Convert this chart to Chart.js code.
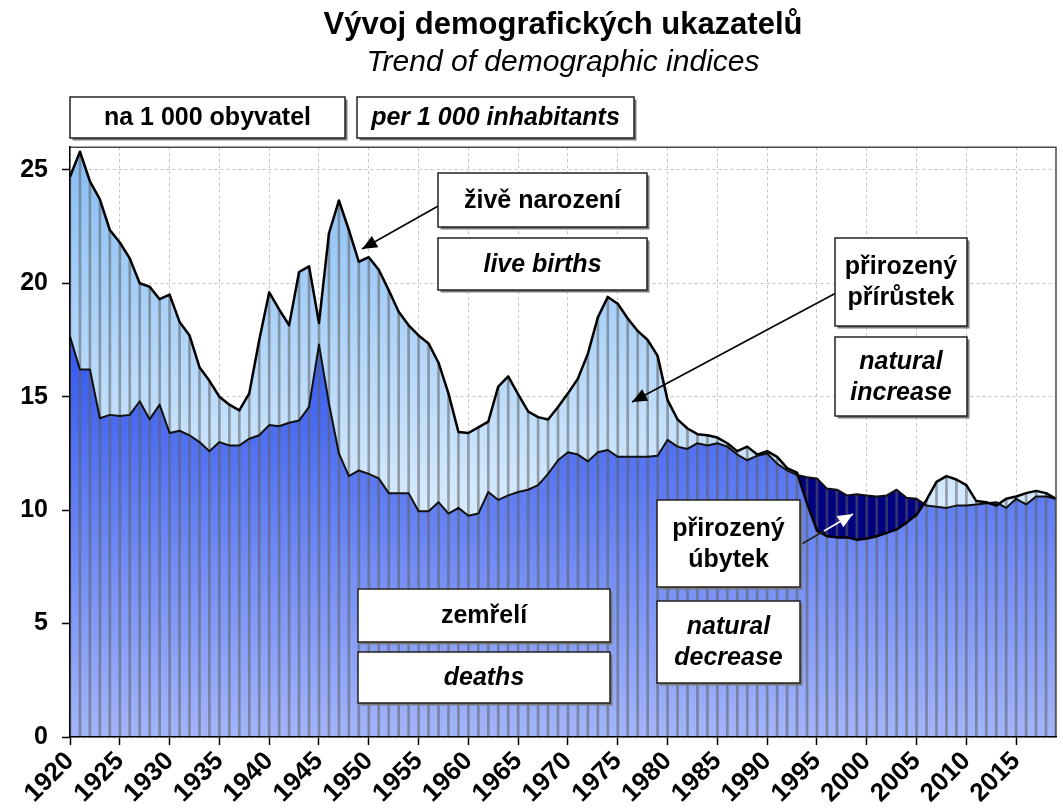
<!DOCTYPE html>
<html><head><meta charset="utf-8">
<script src="https://cdn.jsdelivr.net/npm/chart.js@4"></script>
<style>html,body{margin:0;padding:0;background:#fff}#wrap{width:1063px;height:808px}</style>
</head><body><div id="wrap"><canvas id="c" width="1063" height="808"></canvas></div>
<script>
const FONT = "'Liberation Sans', Arial, sans-serif";

const years = [1920,1921,1922,1923,1924,1925,1926,1927,1928,1929,
1930,1931,1932,1933,1934,1935,1936,1937,1938,1939,
1940,1941,1942,1943,1944,1945,1946,1947,1948,1949,
1950,1951,1952,1953,1954,1955,1956,1957,1958,1959,
1960,1961,1962,1963,1964,1965,1966,1967,1968,1969,
1970,1971,1972,1973,1974,1975,1976,1977,1978,1979,
1980,1981,1982,1983,1984,1985,1986,1987,1988,1989,
1990,1991,1992,1993,1994,1995,1996,1997,1998,1999,
2000,2001,2002,2003,2004,2005,2006,2007,2008,2009,
2010,2011,2012,2013,2014,2015,2016,2017,2018,2019];

const births = [24.7,25.8,24.5,23.7,22.35,21.8,21.1,20.0,19.85,19.3,
19.5,18.3,17.7,16.3,15.7,15.0,14.65,14.4,15.15,17.5,
19.6,18.85,18.15,20.5,20.75,18.25,22.2,23.65,22.35,20.95,
21.15,20.6,19.7,18.75,18.15,17.7,17.35,16.5,15.15,13.45,
13.4,13.65,13.9,15.45,15.9,15.1,14.35,14.1,14.0,14.55,
15.15,15.8,16.9,18.5,19.4,19.1,18.45,17.9,17.5,16.8,
14.85,14.0,13.6,13.35,13.3,13.2,12.95,12.6,12.8,12.45,
12.6,12.35,11.85,11.65,10.3,9.1,8.85,8.8,8.8,8.7,
8.75,8.85,9.0,9.15,9.45,9.8,10.45,11.25,11.5,11.35,
11.1,10.4,10.35,10.2,10.5,10.6,10.75,10.85,10.75,10.5];

const deaths = [17.65,16.2,16.2,14.05,14.2,14.15,14.2,14.8,14.0,14.65,
13.4,13.5,13.3,13.0,12.6,13.0,12.85,12.85,13.15,13.3,
13.75,13.7,13.85,13.95,14.55,17.3,14.7,12.5,11.5,11.75,
11.6,11.4,10.75,10.75,10.75,9.95,9.95,10.35,9.85,10.1,
9.75,9.85,10.8,10.45,10.65,10.8,10.9,11.1,11.6,12.2,
12.55,12.45,12.15,12.55,12.65,12.35,12.35,12.35,12.35,12.4,
13.1,12.8,12.7,12.95,12.85,12.95,12.8,12.45,12.2,12.4,
12.5,12.05,11.75,11.55,11.45,11.4,10.95,10.9,10.65,10.7,
10.65,10.6,10.65,10.9,10.55,10.5,10.2,10.15,10.1,10.2,
10.2,10.25,10.3,10.35,10.1,10.5,10.25,10.6,10.6,10.5];

const xTickLabels = [1920,1925,1930,1935,1940,1945,1950,1955,1960,1965,1970,1975,1980,1985,1990,1995,2000,2005,2010,2015];
const yTickValues = [0,5,10,15,20,25];

const dropTops = births.map((b, i) => Math.max(b, deaths[i]));

function vGrad(chart, vTop, vBot, c0, c1) {
  const {ctx, chartArea, scales} = chart;
  if (!chartArea || !scales.y) return c1;
  const y0 = scales.y.getPixelForValue(vTop), y1 = scales.y.getPixelForValue(vBot);
  const g = ctx.createLinearGradient(0, y0, 0, y1);
  g.addColorStop(0, c0); g.addColorStop(1, c1);
  return g;
}

function arrow(ctx, x1, y1, x2, y2, color, head) {
  ctx.save();
  ctx.strokeStyle = color; ctx.fillStyle = color; ctx.lineWidth = 1.6;
  ctx.beginPath(); ctx.moveTo(x1, y1); ctx.lineTo(x2, y2); ctx.stroke();
  if (head) {
    const a = Math.atan2(y2 - y1, x2 - x1), L = 15, W = 6.5;
    const bx = x2 - L * Math.cos(a), by = y2 - L * Math.sin(a);
    ctx.beginPath();
    ctx.moveTo(x2, y2);
    ctx.lineTo(bx + W * Math.sin(a), by - W * Math.cos(a));
    ctx.lineTo(bx - W * Math.sin(a), by + W * Math.cos(a));
    ctx.closePath(); ctx.fill();
  }
  ctx.restore();
}

const notes = {
  id: 'notes',
  afterDatasetsDraw(chart) {
    const ctx = chart.ctx, a = chart.chartArea;
    ctx.save();
    ctx.strokeStyle = '#4a4a4a'; ctx.lineWidth = 1.5;
    ctx.beginPath();
    ctx.moveTo(a.left, a.top); ctx.lineTo(a.right, a.top); ctx.lineTo(a.right, a.bottom);
    ctx.stroke();
    ctx.restore();
  },
  afterDraw(chart) {
    const ctx = chart.ctx;
    arrow(ctx, 440, 205, 362, 249, '#000', true);
    arrow(ctx, 836, 293, 632, 402, '#000', true);
    arrow(ctx, 800, 545, 824, 531, '#222', false);
    arrow(ctx, 824, 531, 853, 514, '#fff', true);
    const boxes = [
      {x:70, y:97, w:275, h:41, lines:['na 1 000 obyvatel'], it:false},
      {x:357, y:97, w:277, h:41, lines:['per 1 000 inhabitants'], it:true},
      {x:438, y:173, w:209, h:54, lines:['živě narození'], it:false},
      {x:438, y:238, w:209, h:52, lines:['live births'], it:true},
      {x:835, y:238, w:132, h:88, lines:['přirozený','přírůstek'], it:false},
      {x:835, y:337, w:132, h:79, lines:['natural','increase'], it:true},
      {x:657, y:500, w:143, h:87, lines:['přirozený','úbytek'], it:false},
      {x:657, y:601, w:143, h:82, lines:['natural','decrease'], it:true},
      {x:358, y:589, w:252, h:53, lines:['zemřelí'], it:false},
      {x:358, y:652, w:252, h:51, lines:['deaths'], it:true}
    ];
    boxes.forEach(b => {
      ctx.save();
      ctx.fillStyle = '#7a7a7a';
      ctx.fillRect(b.x + 2.5, b.y + 2.5, b.w, b.h);
      ctx.fillStyle = '#fff';
      ctx.fillRect(b.x, b.y, b.w, b.h);
      ctx.strokeStyle = '#222'; ctx.lineWidth = 1.5;
      ctx.strokeRect(b.x, b.y, b.w, b.h);
      ctx.fillStyle = '#000';
      ctx.font = (b.it ? 'italic ' : '') + 'bold 25px ' + FONT;
      ctx.textAlign = 'center'; ctx.textBaseline = 'middle';
      const cx = b.x + b.w / 2, cy = b.y + b.h / 2 + 1, sp = 31;
      const n = b.lines.length;
      b.lines.forEach((t, i) => ctx.fillText(t, cx, cy + (i - (n - 1) / 2) * sp));
      ctx.restore();
    });
  }
};

new Chart(document.getElementById('c'), {
  type: 'line',
  data: {
    labels: years,
    datasets: [
      {
        label: 'živě narození',
        data: births,
        order: 0,
        borderColor: '#000', borderWidth: 2.5, borderJoinStyle: 'round',
        pointRadius: 0, tension: 0,
        backgroundColor: (c) => vGrad(c.chart, 26, 9.5, '#86bdf4', '#d9ecfe'),
        fill: {target: 1, below: '#000080'}
      },
      {
        label: 'zemřelí',
        data: deaths,
        order: 1,
        borderColor: '#111', borderWidth: 2, borderJoinStyle: 'round',
        pointRadius: 0, tension: 0,
        backgroundColor: (c) => vGrad(c.chart, 18, 0, '#2f55ef', '#a3b5f9'),
        fill: 'origin'
      },
      {
        type: 'bar',
        label: 'drop',
        data: dropTops,
        order: 2,
        backgroundColor: 'rgba(95,95,95,0.55)',
        borderWidth: 0,
        barThickness: 2
      }
    ]
  },
  options: {
    responsive: false,
    animation: false,
    events: [],
    devicePixelRatio: 1,
    layout: {padding: {left: 0, right: 7, top: 0, bottom: 0}},
    plugins: {
      legend: {display: false},
      tooltip: {enabled: false},
      filler: {drawTime: 'beforeDatasetsDraw'},
      title: {
        display: true, text: 'Vývoj demografických ukazatelů', fullSize: false,
        color: '#000', font: {family: FONT, size: 31, weight: 'bold', lineHeight: 1.2},
        padding: {top: 7, bottom: 0}
      },
      subtitle: {
        display: true, text: 'Trend of demographic indices', fullSize: false,
        color: '#000', font: {family: FONT, size: 30, style: 'italic', weight: 'normal', lineHeight: 1.2},
        padding: {top: 0, bottom: 67}
      }
    },
    scales: {
      x: {
        type: 'category',
        offset: false,
        grid: {offset: false, color: '#c4c4c4', lineWidth: 1, tickColor: '#000', tickLength: 8, tickWidth: 1.5},
        border: {display: true, color: '#000', width: 1.5, dash: [3, 3], z: 1},
        ticks: {
          autoSkip: false, maxRotation: 45, minRotation: 45, padding: 1,
          color: '#000', font: {family: FONT, size: 26, weight: 'bold'},
          callback: (v, i) => xTickLabels.includes(years[i]) ? String(years[i]) : null
        },
        afterFit: (s) => { s.height = 71; }
      },
      y: {
        min: 0, max: 26,
        grid: {color: '#c4c4c4', lineWidth: 1, tickColor: '#000', tickLength: 8, tickWidth: 1.5},
        border: {display: true, color: '#000', width: 1.5, dash: [3, 3], z: 1},
        ticks: {
          stepSize: 5, includeBounds: false, padding: 14,
          color: '#000', font: {family: FONT, size: 25, weight: 'bold'},
          callback: (v) => yTickValues.includes(v) ? String(v) : null
        },
        afterFit: (s) => { s.width = 70; }
      }
    }
  },
  plugins: [notes]
});
</script>
</body></html>
